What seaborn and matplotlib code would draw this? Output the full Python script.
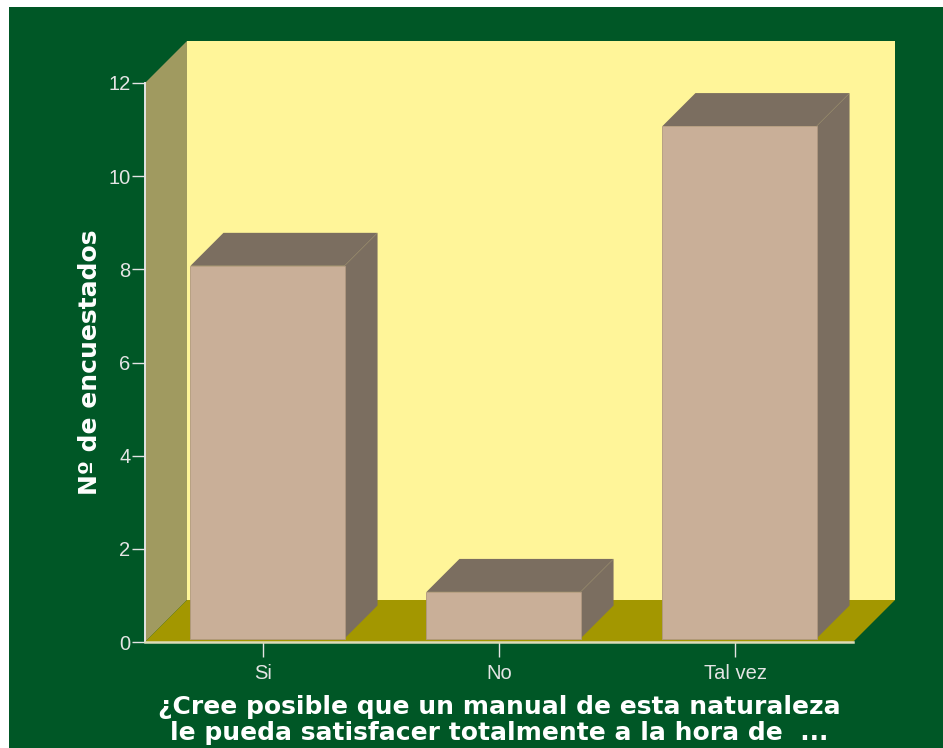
import matplotlib
matplotlib.use("Agg")
import matplotlib.pyplot as plt
from matplotlib.patches import Polygon, Rectangle
import seaborn as sns
import pandas as pd

# Survey answers and respondent counts
categories = ["Si", "No", "Tal vez"]
counts = [8, 1, 11]
y_ticks = [0, 2, 4, 6, 8, 10, 12]

x_title = ("¿Cree posible que un manual de esta naturaleza\n"
           "le pueda satisfacer totalmente a la hora de  ...")
y_title = "Nº de encuestados"

# Palette
GREEN = "#005726"
BACK_WALL = "#FFF599"
SIDE_WALL = "#A09A60"
FLOOR = "#A39700"
BAR_FRONT = "#C9AF98"
BAR_SHADE = "#7B6E60"
LIGHT = "#E4E4E4"

sns.set_theme(style="white")
plt.rcParams["font.family"] = ["Liberation Sans", "DejaVu Sans"]

W, H, DPI = 943, 748, 100
fig = plt.figure(figsize=(W / DPI, H / DPI), dpi=DPI)
fig.patch.set_facecolor("white")
fig.patches.append(Rectangle((9 / W, 0), 1, (H - 7) / H, transform=fig.transFigure,
                             facecolor=GREEN, edgecolor="none", zorder=-10))

# Plot area in pixels (left, top, right, bottom)
L, T, R, B = 145, 83, 853, 642
ax = fig.add_axes([L / W, (H - B) / H, (R - L) / W, (B - T) / H])
ax.set_facecolor("none")
ax.set_zorder(1)

df = pd.DataFrame({"resp": categories, "n": counts})
sns.barplot(data=df, x="resp", y="n", order=categories, color=BAR_FRONT,
            saturation=1, width=0.653, linewidth=0, ax=ax, zorder=5)
ax.set_xlim(-0.5, len(categories) - 0.5)
ax.set_ylim(0, 12)

# pixel -> data unit helpers for the oblique depth effect
px_x = (R - L) / len(categories)
px_y = (B - T) / 12.0
def ox(p):
    return p / px_x
def oy(p):
    return p / px_y

WALL = 42      # depth of the chart box
FRONT = (4.5, 3.5)  # bars sit slightly behind the front edge
DEPTH = 33     # bar depth

bars = [p for p in ax.patches if isinstance(p, Rectangle)]

x0, x1 = -0.5, len(categories) - 0.5
dxw, dyw = ox(WALL), oy(WALL)
# back wall, side wall and floor
ax.add_patch(Polygon([(x0 + dxw, dyw), (x1 + dxw, dyw), (x1 + dxw, 12 + dyw), (x0 + dxw, 12 + dyw)],
                     closed=True, facecolor=BACK_WALL, edgecolor="none", clip_on=False, zorder=1))
ax.add_patch(Polygon([(x0, 0), (x0, 12), (x0 + dxw, 12 + dyw), (x0 + dxw, dyw)],
                     closed=True, facecolor=SIDE_WALL, edgecolor="none", clip_on=False, zorder=2))
ax.add_patch(Polygon([(x0, 0), (x1, 0), (x1 + dxw, dyw), (x0 + dxw, dyw)],
                     closed=True, facecolor=FLOOR, edgecolor="none", clip_on=False, zorder=2))

# shift bar fronts back a little and add their top and side faces
dxd, dyd = ox(DEPTH), oy(DEPTH)
for bar in bars:
    bar.set_x(bar.get_x() + ox(FRONT[0]))
    bar.set_y(oy(FRONT[1]))
    bar.set_clip_on(False)
    bar.set_edgecolor("#B09880")
    bar.set_linewidth(0.6)
    bx0 = bar.get_x()
    bx1 = bx0 + bar.get_width()
    yb = bar.get_y()
    yt = yb + bar.get_height()
    ax.add_patch(Polygon([(bx0, yt), (bx1, yt), (bx1 + dxd, yt + dyd), (bx0 + dxd, yt + dyd)],
                         closed=True, facecolor=BAR_SHADE, edgecolor="none", clip_on=False, zorder=4))
    ax.add_patch(Polygon([(bx1, yb), (bx1, yt), (bx1 + dxd, yt + dyd), (bx1 + dxd, yb + dyd)],
                         closed=True, facecolor=BAR_SHADE, edgecolor="none", clip_on=False, zorder=4))

# axes styling
for side in ["top", "right"]:
    ax.spines[side].set_visible(False)
ax.spines["left"].set_color(LIGHT)
ax.spines["left"].set_linewidth(1.4)
ax.spines["bottom"].set_color("#DCDBB8")
ax.spines["bottom"].set_linewidth(1.8)
for s in ax.spines.values():
    s.set_zorder(10)

ax.set_yticks(y_ticks)
ax.set_yticklabels([str(v) for v in y_ticks])
ax.tick_params(axis="y", left=True, direction="out", length=9.4, width=1.0, color=LIGHT,
               labelcolor=LIGHT, labelsize=14.5, pad=1)
ax.tick_params(axis="x", bottom=True, direction="out", length=10.5, width=1.0, color=LIGHT,
               labelcolor=LIGHT, labelsize=14.5, pad=5)

ax.set_xlabel(x_title, color="white", fontsize=18, fontweight="bold",
              family="DejaVu Sans", linespacing=1.07)
ax.xaxis.label.set_va("center")
ax.xaxis.set_label_coords(0.5, (B - 720) / (B - T))
ax.set_ylabel(y_title, color="white", fontsize=18, fontweight="bold", family="DejaVu Sans")
ax.yaxis.label.set_va("center")
ax.yaxis.set_label_coords((90 - L) / (R - L), 0.5)

fig.savefig("out.png", dpi=DPI, facecolor=fig.get_facecolor())
